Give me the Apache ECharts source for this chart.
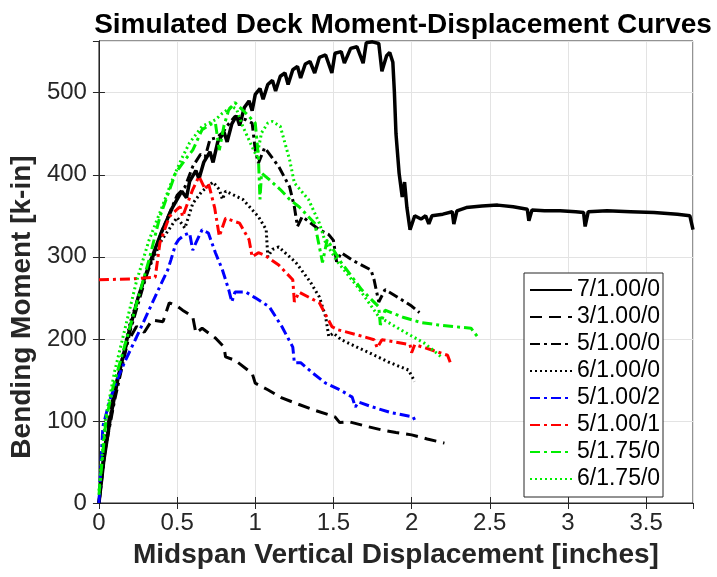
<!DOCTYPE html>
<html>
<head>
<meta charset="utf-8">
<script src="https://cdn.jsdelivr.net/npm/echarts/dist/echarts.min.js"></script>
<style>
  html, body { margin: 0; padding: 0; background: #fff; }
  #chart { width: 717px; height: 577px; }
</style>
</head>
<body>
<div id="chart"></div>
<script>
// x: midspan displacement [in], y: bending moment [k-in]
const s7_100_0 = [[0,0],[0.03,50],[0.07,100],[0.12,150],[0.18,200],[0.25,250],[0.32,290],[0.4,330],[0.47,360],[0.53,380],[0.56,372],[0.58,392],[0.62,405],[0.64,395],[0.67,415],[0.71,428],[0.73,415],[0.76,440],[0.8,452],[0.82,440],[0.85,462],[0.88,472],[0.9,460],[0.93,482],[0.96,490],[0.98,478],[1.0,498],[1.03,505],[1.05,492],[1.08,510],[1.11,515],[1.13,502],[1.16,520],[1.19,524],[1.21,510],[1.24,528],[1.27,532],[1.29,518],[1.32,535],[1.35,538],[1.38,524],[1.41,543],[1.45,546],[1.49,524],[1.51,548],[1.55,550],[1.57,536],[1.61,554],[1.65,556],[1.69,536],[1.71,561],[1.75,562],[1.79,560],[1.81,526],[1.84,545],[1.86,549],[1.88,537],[1.89,500],[1.9,450],[1.92,402],[1.94,373],[1.955,391],[1.97,360],[1.99,333],[2.02,350],[2.06,346],[2.09,350],[2.11,340],[2.13,350],[2.2,352],[2.26,355],[2.27,340],[2.29,356],[2.35,360],[2.45,362],[2.55,363],[2.65,361],[2.74,358],[2.75,344],[2.77,357],[2.85,356],[2.95,356],[3.05,355],[3.1,354],[3.11,337],[3.13,355],[3.25,356],[3.4,355],[3.55,354],[3.7,352],[3.78,350],[3.8,333]];
const s3_100_0 = [[0,0],[0.03,60],[0.07,110],[0.12,155],[0.18,195],[0.24,215],[0.29,208],[0.34,223],[0.41,221],[0.45,244],[0.5,240],[0.535,235],[0.6,227],[0.62,207],[0.66,213],[0.745,201],[0.8,190],[0.81,178],[0.87,174],[0.98,158],[1.0,146],[1.08,138],[1.17,128],[1.28,120],[1.38,113],[1.51,105],[1.54,98],[1.6,99],[1.7,94],[1.81,89],[1.9,86],[2.0,83],[2.1,78],[2.21,73]];
const s5_100_0 = [[0,0],[0.04,65],[0.1,125],[0.2,210],[0.3,275],[0.4,330],[0.5,375],[0.55,385],[0.6,410],[0.65,425],[0.68,422],[0.71,443],[0.75,445],[0.79,451],[0.83,462],[0.87,471],[0.94,467],[0.98,463],[1.0,430],[1.02,414],[1.06,433],[1.15,410],[1.22,385],[1.25,361],[1.27,337],[1.3,349],[1.41,333],[1.47,327],[1.5,320],[1.52,294],[1.55,305],[1.62,296],[1.74,284],[1.76,272],[1.79,245],[1.83,260],[1.9,252],[2.0,240],[2.05,232]];
const s6_100_0 = [[0,0],[0.04,70],[0.1,135],[0.2,220],[0.3,278],[0.4,320],[0.5,348],[0.55,335],[0.6,365],[0.66,380],[0.73,391],[0.77,382],[0.79,370],[0.81,380],[0.92,370],[1.02,349],[1.07,333],[1.08,300],[1.11,309],[1.15,312],[1.26,293],[1.35,270],[1.41,251],[1.45,227],[1.47,203],[1.5,207],[1.55,199],[1.65,190],[1.73,183],[1.85,172],[1.98,162],[2.02,148]];
const s5_100_2 = [[0,0],[0.025,93],[0.07,126],[0.12,152],[0.17,174],[0.24,202],[0.32,235],[0.39,264],[0.44,284],[0.46,296],[0.49,315],[0.51,321],[0.55,327],[0.58,329],[0.6,308],[0.62,317],[0.66,333],[0.7,329],[0.745,305],[0.79,284],[0.83,260],[0.85,245],[0.87,257],[0.94,257],[1.0,250],[1.09,239],[1.17,215],[1.24,190],[1.25,171],[1.29,171],[1.37,158],[1.45,146],[1.55,137],[1.62,129],[1.64,117],[1.66,123],[1.75,117],[1.87,110],[2.01,105],[2.03,97]];
const s5_100_1 = [[0,272],[0.2,273],[0.36,275],[0.39,317],[0.45,349],[0.5,358],[0.52,361],[0.535,349],[0.6,382],[0.64,398],[0.68,382],[0.7,390],[0.74,360],[0.77,325],[0.81,347],[0.9,341],[0.96,321],[0.98,300],[1.02,305],[1.06,302],[1.15,290],[1.24,272],[1.25,245],[1.28,257],[1.41,244],[1.49,215],[1.53,211],[1.65,205],[1.76,199],[1.78,189],[1.81,199],[1.9,196],[1.99,193],[2.0,183],[2.02,193],[2.12,187],[2.23,180],[2.25,170]];
const s5_175_0 = [[0,10],[0.045,101],[0.09,141],[0.17,195],[0.26,256],[0.32,296],[0.39,349],[0.49,402],[0.55,418],[0.6,430],[0.66,455],[0.72,462],[0.745,463],[0.77,430],[0.8,460],[0.83,479],[0.87,488],[0.94,475],[1.0,463],[1.02,422],[1.03,370],[1.04,402],[1.09,394],[1.16,382],[1.22,370],[1.28,361],[1.38,341],[1.43,293],[1.46,321],[1.55,293],[1.68,260],[1.79,239],[1.8,217],[1.83,235],[1.95,226],[2.06,220],[2.17,217],[2.27,215],[2.38,213],[2.42,203]];
const s6_175_0 = [[0,15],[0.04,100],[0.1,160],[0.17,215],[0.24,270],[0.32,320],[0.39,354],[0.47,394],[0.53,420],[0.58,439],[0.66,459],[0.745,467],[0.79,475],[0.85,483],[0.88,480],[0.92,459],[0.98,434],[1.01,422],[1.04,451],[1.08,463],[1.11,465],[1.16,459],[1.22,418],[1.25,390],[1.34,370],[1.41,341],[1.45,317],[1.53,293],[1.66,262],[1.79,227],[1.94,210],[2.08,195],[2.19,178]];

const seriesNames = ['7/1.00/0', '3/1.00/0', '5/1.00/0', '6/1.00/0', '5/1.00/2', '5/1.00/1', '5/1.75/0', '6/1.75/0'];
const seriesData = [s7_100_0, s3_100_0, s5_100_0, s6_100_0, s5_100_2, s5_100_1, s5_175_0, s6_175_0];
const seriesColors = ['#000000', '#000000', '#000000', '#000000', '#0000ff', '#ff0000', '#00ee00', '#00ee00'];
const seriesDash = ['solid', [12, 7], [10, 4, 3, 4], [2, 3], [10, 4, 3, 4], [10, 4, 3, 4], [10, 4, 3, 4], [2, 3]];
const seriesWidth = [3.5, 3, 3, 3, 3, 3, 3, 3];

const xTicks = { min: 0, max: 3.8, interval: 0.5 };
const yTicks = { min: 0, max: 563, interval: 100 };

const chart = echarts.init(document.getElementById('chart'));

const font = 'Liberation Sans, Arial, Helvetica, sans-serif';
const dark = '#262626';

const series = seriesNames.map((name, i) => ({
  name: name,
  type: 'line',
  data: seriesData[i],
  symbol: 'none',
  lineStyle: { color: seriesColors[i], width: seriesWidth[i], type: seriesDash[i] },
  itemStyle: { color: seriesColors[i] },
}));

chart.setOption({
  animation: false,
  backgroundColor: '#ffffff',
  title: {
    text: 'Simulated Deck Moment-Displacement Curves',
    left: 398,
    textAlign: 'center',
    top: 6,
    textStyle: { fontFamily: font, fontSize: 28, fontWeight: 'bold', color: '#000' },
  },
  grid: {
    left: 96,
    right: 24,
    top: 41,
    bottom: 74,
    show: true,
    borderColor: dark,
    borderWidth: 1,
  },
  graphic: [
    {
      type: 'rect',
      z: 3,
      shape: { x: 524, y: 273, width: 139, height: 224 },
      style: { fill: '#ffffff', stroke: dark, lineWidth: 1 },
    },
  ],
  legend: {
    data: seriesNames,
    orient: 'vertical',
    left: 524,
    top: 273,
    z: 6,
    padding: [5, 6, 5, 5],
    itemWidth: 42,
    itemHeight: 14,
    itemGap: 3,
    itemStyle: { opacity: 0 },
    textStyle: { fontFamily: font, fontSize: 23, color: '#000', lineHeight: 24 },
  },
  xAxis: [
    {
      type: 'value',
      min: xTicks.min,
      max: xTicks.max,
      interval: xTicks.interval,
      name: 'Midspan Vertical Displacement [inches]',
      nameLocation: 'middle',
      nameGap: 38,
      nameTextStyle: { fontFamily: font, fontSize: 28, fontWeight: 'bold', color: dark },
      axisLine: { show: true, lineStyle: { color: dark, width: 1 } },
      axisTick: { show: true, inside: true, length: 6, lineStyle: { color: dark } },
      axisLabel: { showMaxLabel: false, margin: 8, fontFamily: font, fontSize: 24, color: dark },
      splitLine: { show: true, lineStyle: { color: '#e3e3e3', width: 1 } },
    },
    {
      type: 'value',
      position: 'top',
      min: xTicks.min,
      max: xTicks.max,
      interval: xTicks.interval,
      axisLine: { show: true, lineStyle: { color: dark, width: 1 } },
      axisTick: { show: true, inside: true, length: 6, lineStyle: { color: dark } },
      axisLabel: { show: false },
      splitLine: { show: false },
    },
  ],
  yAxis: [
    {
      type: 'value',
      min: yTicks.min,
      max: yTicks.max,
      interval: yTicks.interval,
      name: 'Bending Moment [k-in]',
      nameLocation: 'middle',
      nameGap: 53,
      nameTextStyle: { fontFamily: font, fontSize: 28, fontWeight: 'bold', color: dark, padding: [0, 70, 0, 0] },
      axisLine: { show: true, lineStyle: { color: dark, width: 1 } },
      axisTick: { show: true, inside: true, length: 6, lineStyle: { color: dark } },
      axisLabel: { showMaxLabel: false, margin: 12, fontFamily: font, fontSize: 24, color: dark },
      splitLine: { show: true, lineStyle: { color: '#e3e3e3', width: 1 } },
    },
    {
      type: 'value',
      position: 'right',
      min: yTicks.min,
      max: yTicks.max,
      interval: yTicks.interval,
      axisLine: { show: true, lineStyle: { color: dark, width: 1 } },
      axisTick: { show: true, inside: true, length: 6, lineStyle: { color: dark } },
      axisLabel: { show: false },
      splitLine: { show: false },
    },
  ],
  series: series,
});
</script>
</body>
</html>
